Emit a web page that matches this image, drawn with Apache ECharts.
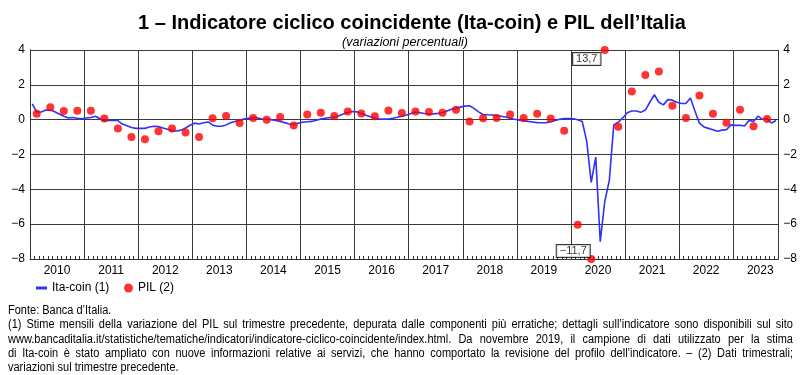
<!DOCTYPE html>
<html>
<head>
<meta charset="utf-8">
<script src="https://cdn.jsdelivr.net/npm/echarts@6/dist/echarts.min.js"></script>
<style>
  body { margin: 0; background: #fff; }
  #wrap { position: relative; width: 800px; height: 375px; overflow: hidden; }
  #chart { width: 800px; height: 375px; }
  #notes {
    position: absolute; left: 8px; top: 303px; width: 892px;
    transform: scaleX(0.88); transform-origin: 0 0;
    font-family: 'Liberation Sans', Arial, sans-serif;
    font-size: 12.5px; line-height: 14.3px; color: #000;
  }
  #notes div { text-align: justify; text-align-last: justify; }
  #notes div.plain { text-align-last: left; }
</style>
</head>
<body>
<div id="wrap">
  <div id="chart"></div>
  <div id="notes">
    <div class="plain">Fonte: Banca d’Italia.</div>
    <div>(1) Stime mensili della variazione del PIL sul trimestre precedente, depurata dalle componenti più erratiche; dettagli sull’indicatore sono disponibili sul sito</div>
    <div>www.bancaditalia.it/statistiche/tematiche/indicatori/indicatore-ciclico-coincidente/index.html. Da novembre 2019, il campione di dati utilizzato per la stima</div>
    <div>di Ita-coin è stato ampliato con nuove informazioni relative ai servizi, che hanno comportato la revisione del profilo dell’indicatore. – (2) Dati trimestrali;</div>
    <div class="plain">variazioni sul trimestre precedente.</div>
  </div>
</div>
<script>
// year labels on the x axis
const years = ['2010', '2011', '2012', '2013', '2014', '2015', '2016',
  '2017', '2018', '2019', '2020', '2021', '2022', '2023']

// Ita-coin, monthly, Jan 2010 - Oct 2023
const ita = [
  0.91, 0.44, 0.44, 0.55, 0.55, 0.45, 0.33, 0.2, 0.1, 0.12, 0.08, 0.05,
  0.1, 0.12, 0.2, 0.05, -0.08, -0.03, -0.05, -0.05, -0.25, -0.35, -0.45, -0.5,
  -0.5, -0.5, -0.42, -0.38, -0.4, -0.48, -0.55, -0.65, -0.65, -0.6, -0.48, -0.32,
  -0.2, -0.25, -0.18, -0.13, -0.3, -0.38, -0.38, -0.3, -0.18, -0.1, -0.02, 0.03,
  0.08, 0.13, 0.1, 0.04, 0.02, 0.0, -0.05, -0.1, -0.17, -0.25, -0.28, -0.2,
  -0.15, -0.12, -0.1, -0.03, 0.03, 0.08, 0.12, 0.13, 0.22, 0.32, 0.42, 0.47,
  0.45, 0.35, 0.25, 0.17, 0.1, 0.04, 0.03, 0.04, 0.08, 0.14, 0.2, 0.27,
  0.35, 0.44, 0.4, 0.35, 0.32, 0.33, 0.36, 0.4, 0.5, 0.6, 0.65, 0.72,
  0.78, 0.8, 0.65, 0.45, 0.3, 0.28, 0.27, 0.24, 0.2, 0.15, 0.08, 0.02,
  -0.03, -0.06, -0.1, -0.13, -0.17, -0.18, -0.17, -0.12, -0.05, 0.02, 0.06, 0.06,
  0.05, 0.0, -0.1, -1.25, -3.6, -2.15, -7.0, -4.7, -3.5, -0.3, -0.15, 0.1,
  0.4, 0.5, 0.5, 0.42, 0.55, 1.0, 1.43, 1.0, 0.85, 1.15, 1.12, 1.0,
  0.93, 0.93, 1.24, 0.5, -0.2, -0.42, -0.5, -0.58, -0.67, -0.6, -0.57, -0.3,
  -0.33, -0.32, -0.36, -0.05, -0.1, 0.2, 0.02, 0.05, -0.19, -0.05
]

// PIL, quarterly, 2010Q1 - 2023Q3
const pil = [
  0.34, 0.72, 0.5, 0.51,
  0.51, 0.06, -0.51, -1.0,
  -1.12, -0.67, -0.51, -0.74,
  -1.0, 0.08, 0.21, -0.19,
  0.1, 0.0, 0.15, -0.34,
  0.29, 0.4, 0.21, 0.47,
  0.36, 0.19, 0.53, 0.38,
  0.47, 0.44, 0.4, 0.57,
  -0.1, 0.08, 0.1, 0.3,
  0.1, 0.34, 0.06, -0.63,
  -6.04, -11.7, 13.7, -0.4,
  1.62, 2.57, 2.76, 0.8,
  0.1, 1.39, 0.34, -0.17,
  0.57, -0.38, 0.04
]

const yMin = -8
const yMax = 4

const minus = v => String(v).replace('-', '\u2212')
const comma = v => minus(v.toFixed(1).replace('.', ','))

const itaData = ita.map((v, k) => [k + 0.5, v])
const pilData = pil.map((v, q) => {
  const y = Math.max(yMin, Math.min(yMax, v))
  const item = { value: [q * 3 + 1.5, y] }
  if (y !== v) {
    item.label = {
      show: true,
      formatter: comma(v),
      offset: v > 0 ? [-18, 9] : [-18, -8]
    }
  }
  return item
})

const months = ita.length
const monthTicks = Array.from({ length: months + 1 }, (_, i) => i)

const chart = echarts.init(document.getElementById('chart'))
const font = "'Liberation Sans', Arial, sans-serif"

chart.setOption({
  backgroundColor: '#fff',
  animation: false,
  title: [
    {
      text: '1 – Indicatore ciclico coincidente (Ita-coin) e PIL dell’Italia',
      left: 407,
      top: 8,
      textAlign: 'center',
      textStyle: { fontFamily: font, fontSize: 20, fontWeight: 'bold', color: '#000' }
    },
    {
      text: '(variazioni percentuali)',
      left: 400,
      top: 31,
      textAlign: 'center',
      textStyle: { fontFamily: font, fontSize: 12.5, fontStyle: 'italic', fontWeight: 'normal', color: '#000' }
    }
  ],
  legend: [
    {
      left: 31,
      top: 277,
      itemWidth: 11,
      itemHeight: 3,
      itemGap: 8,
      data: [{ name: 'Ita‑coin (1)', icon: 'rect' }],
      textStyle: { fontFamily: font, fontSize: 12, color: '#000' }
    },
    {
      left: 119,
      top: 277,
      itemWidth: 9,
      itemHeight: 9,
      data: [{ name: 'PIL (2)', icon: 'circle' }],
      textStyle: { fontFamily: font, fontSize: 12, color: '#000' }
    }
  ],
  grid: { left: 30, right: 21, top: 50, bottom: 116 },
  xAxis: [
    {
      type: 'value',
      min: 0,
      max: months,
      interval: 12,
      axisLine: { show: true, onZero: false, lineStyle: { color: '#333', width: 1 } },
      axisTick: { show: true, inside: true, length: 5, lineStyle: { color: '#333' } },
      splitLine: { show: true, lineStyle: { color: '#3a3a3a', width: 1 } },
      axisLabel: {
        customValues: years.map((y, i) => i * 12 + 6),
        formatter: v => years[Math.round((v - 6) / 12)],
        fontFamily: font,
        fontSize: 12,
        color: '#000',
        margin: 6
      }
    },
    {
      type: 'value',
      position: 'bottom',
      min: 0,
      max: months,
      axisLine: { show: false, onZero: false },
      splitLine: { show: false },
      axisLabel: { show: false },
      axisTick: {
        show: true,
        inside: true,
        length: 3,
        customValues: monthTicks,
        lineStyle: { color: '#333' }
      }
    }
  ],
  yAxis: [
    {
      type: 'value',
      min: yMin,
      max: yMax,
      interval: 2,
      axisLine: { show: true, lineStyle: { color: '#333' } },
      axisTick: { show: false },
      splitLine: { show: true, lineStyle: { color: '#3a3a3a', width: 1 } },
      axisLabel: { formatter: minus, fontFamily: font, fontSize: 12, color: '#000', margin: 5 }
    },
    {
      type: 'value',
      position: 'right',
      min: yMin,
      max: yMax,
      interval: 2,
      axisLine: { show: true, lineStyle: { color: '#333' } },
      axisTick: { show: false },
      splitLine: { show: false },
      axisLabel: { formatter: minus, fontFamily: font, fontSize: 12, color: '#000', margin: 5 }
    }
  ],
  series: [
    {
      name: 'Ita‑coin (1)',
      type: 'line',
      data: itaData,
      showSymbol: false,
      symbol: 'none',
      color: '#3030ff',
      lineStyle: { color: '#3030ff', width: 1.6 },
      z: 3
    },
    {
      name: 'PIL (2)',
      type: 'scatter',
      data: pilData,
      symbolSize: 8,
      color: '#ff0000',
      itemStyle: { color: '#ff0000' },
      label: {
        show: false,
        position: 'inside',
        fontFamily: font,
        fontSize: 11,
        color: '#000',
        backgroundColor: '#fff',
        borderColor: '#000',
        borderWidth: 1,
        padding: [1, 3, 0, 3]
      },
      z: 4
    }
  ]
})
</script>
</body>
</html>
